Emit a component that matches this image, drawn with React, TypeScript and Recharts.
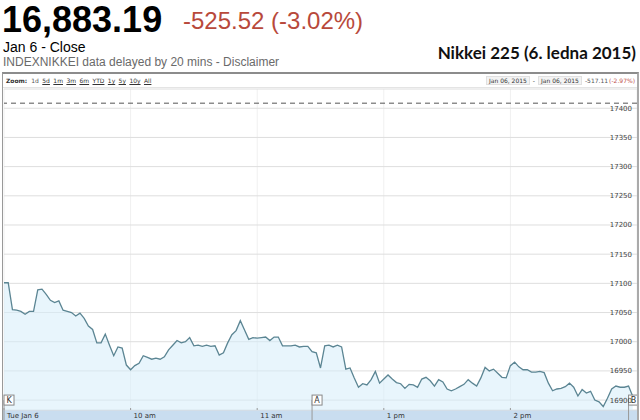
import React from 'react';
import { AreaChart, Area, XAxis, YAxis, CartesianGrid, ReferenceLine, ReferenceDot } from 'recharts';

const lastPrice = '16,883.19';
const changeText = '-525.52 (-3.02%)';
const closeLabel = 'Jan 6 - Close';
const sourceNote = 'INDEXNIKKEI data delayed by 20 mins - Disclaimer';
const chartTitle = 'Nikkei 225 (6. ledna 2015)';
const prevClose = 17408.71;

const zoomLinks = ['1d', '5d', '1m', '3m', '6m', 'YTD', '1y', '5y', '10y', 'All'];
const rangeFrom = 'Jan 06, 2015';
const rangeTo = 'Jan 06, 2015';
const rangeChange = '-517.11';
const rangePct = '(-2.97%)';

// trading minutes since 9:00 open (lunch break 11:30-12:30 collapsed)
const xTicks = [0, 60, 120, 180, 240];
const xTickLabels = ['Tue Jan 6', '10 am', '11 am', '1 pm', '2 pm'];
const yTicks = [16900, 16950, 17000, 17050, 17100, 17150, 17200, 17250, 17300, 17350, 17400];

// index level, one reading every 2 trading minutes
const prices = [
  17101, 17101, 17055, 17054, 17052, 17047, 17052, 17052, 17089, 17090,
  17081, 17071, 17067, 17070, 17054, 17052, 17050, 17044, 17049, 17040,
  17027, 17021, 16998, 16998, 17013, 16994, 16976, 16991, 16989, 16960,
  16952, 16959, 16963, 16976, 16973, 16970, 16972, 16970, 16974, 16986,
  16994, 17002, 16998, 17000, 17007, 16993, 16994, 16992, 16994, 16992,
  16993, 16977, 16981, 16998, 17012, 17019, 17036, 17020, 17004, 17007,
  17006, 17007, 17008, 17002, 17008, 17008, 16993, 16993, 16993, 16994,
  16991, 16992, 16992, 16983, 16981, 16955, 16993, 16994, 16991, 16994,
  16991, 16953, 16955, 16938, 16922, 16928, 16926, 16935, 16949, 16929,
  16936, 16943, 16936, 16930, 16928, 16920, 16927, 16926, 16922, 16936,
  16939, 16933, 16924, 16935, 16931, 16919, 16916, 16919, 16923, 16927,
  16935, 16929, 16924, 16938, 16956, 16950, 16953, 16946, 16939, 16938,
  16959, 16965, 16957, 16952, 16952, 16948, 16948, 16949, 16947, 16929,
  16916, 16919, 16920, 16923, 16929, 16922, 16907, 16918, 16912, 16915,
  16900, 16897, 16889, 16903, 16919, 16924, 16922, 16922, 16924, 16906,
];

const flagLabels = ['K', 'A', 'B'];
const flagMinutes = [0, 146, 296];
const flagLevel = 16900;

const data = prices.map((price, i) => ({ minute: i * 2, price }));

const smallFont = 'Verdana, "DejaVu Sans", sans-serif';

function TimeTick({ x, y, payload }: any) {
  const idx = xTicks.indexOf(payload.value);
  return (
    <g>
      <line x1={x} x2={x} y1={y - 2} y2={y} stroke="#999" />
      <text x={x + 3} y={y + 8} fontSize={7} fontFamily={smallFont} fill="#333" textAnchor="start">
        {xTickLabels[idx]}
      </text>
    </g>
  );
}

function Flag({ cx, cy, label }: any) {
  return (
    <g>
      <line x1={cx} x2={cx} y1={cy} y2={410} stroke="#999" />
      <rect x={cx} y={cy - 5} width={10} height={10} fill="#fff" stroke="#888" />
      <text x={cx + 5} y={cy + 3} fontSize={8} fontFamily={smallFont} fill="#333" textAnchor="middle">
        {label}
      </text>
    </g>
  );
}

export default function App() {
  return (
    <div style={{ position: 'fixed', left: 0, top: 0, width: 640, height: 420, overflow: 'hidden', background: '#fff', fontFamily: 'Arial, "Liberation Sans", sans-serif' }}>
      {/* quote header */}
      <div style={{ position: 'absolute', left: 2, top: 0, fontSize: 36, fontWeight: 700, lineHeight: '40px', color: '#000' }}>{lastPrice}</div>
      <div style={{ position: 'absolute', left: 183, top: 6, fontSize: 24, lineHeight: '30px', color: '#b8493b' }}>{changeText}</div>
      <div style={{ position: 'absolute', left: 3, top: 38, fontSize: 14, lineHeight: '18px', color: '#000' }}>{closeLabel}</div>
      <div style={{ position: 'absolute', left: 3, top: 55, fontSize: 12, lineHeight: '14px', color: '#6a6a6a' }}>{sourceNote}</div>
      <div style={{ position: 'absolute', right: 4, top: 43, fontSize: 17, lineHeight: '20px', fontWeight: 700, fontFamily: 'Lato, "Open Sans", sans-serif', color: '#111' }}>{chartTitle}</div>

      {/* chart frame */}
      <div style={{ position: 'absolute', left: 2, top: 72, width: 634, height: 348, borderTop: '2px solid #8c8c8c', borderLeft: '1px solid #999', borderRight: '2px solid #aaa' }} />
      <div style={{ position: 'absolute', left: 3, top: 74, width: 634, height: 13, borderBottom: '1px solid #e4e4e4', fontFamily: smallFont, fontSize: 6, color: '#333', display: 'flex', alignItems: 'center' }}>
        <span style={{ fontWeight: 700, marginLeft: 3, marginRight: 4 }}>Zoom:</span>
        {zoomLinks.map((z, i) => (
          <span key={z} style={{ marginRight: 3.4, textDecoration: i === 0 ? 'none' : 'underline', color: i === 0 ? '#555' : '#333' }}>{z}</span>
        ))}
        <span style={{ marginLeft: 'auto', display: 'flex', alignItems: 'center', gap: 3, marginRight: 2 }}>
          <span style={{ background: '#f3f3f3', border: '1px solid #e0e0e0', padding: '0 2px' }}>{rangeFrom}</span>
          <span>-</span>
          <span style={{ background: '#f3f3f3', border: '1px solid #e0e0e0', padding: '0 2px' }}>{rangeTo}</span>
          <span style={{ color: '#555' }}>{rangeChange}</span>
          <span style={{ color: '#c0504d', marginLeft: -2 }}>{rangePct}</span>
        </span>
      </div>

      {/* time axis band */}
      <div style={{ position: 'absolute', left: 3, top: 410, width: 634, height: 10, background: '#c9ddf0' }} />

      <div style={{ position: 'absolute', left: 3, top: 88 }}>
        <AreaChart width={634} height={332} data={data} margin={{ top: 1, right: 0, left: 1, bottom: 0 }}>
          <CartesianGrid stroke="#f0f0f0" horizontal={false} />
          <CartesianGrid stroke="#dedede" vertical={false} />
          <XAxis
            dataKey="minute"
            type="number"
            domain={[0, 300]}
            ticks={xTicks}
            height={10}
            axisLine={false}
            tickLine={false}
            tickSize={0}
            tickMargin={0}
            tick={<TimeTick />}
            interval={0}
          />
          <YAxis
            orientation="right"
            mirror
            domain={[16883, 17433]}
            allowDataOverflow
            ticks={yTicks}
            axisLine={false}
            tickLine={false}
            tickSize={0}
            tickMargin={5}
            interval={0}
            tick={{ fill: '#444', fontSize: 7, fontFamily: smallFont }}
          />
          <ReferenceLine y={prevClose} stroke="#555" strokeDasharray="5 4" />
          <Area
            type="linear"
            dataKey="price"
            stroke="#5b8593"
            strokeWidth={1.3}
            fill="#d6ecf9"
            fillOpacity={0.55}
            dot={false}
            activeDot={false}
            isAnimationActive={false}
          />
          {flagMinutes.map((m, i) => (
            <ReferenceDot key={flagLabels[i]} x={m} y={flagLevel} r={5} shape={(p: any) => <Flag {...p} label={flagLabels[i]} />} />
          ))}
        </AreaChart>
      </div>
    </div>
  );
}
